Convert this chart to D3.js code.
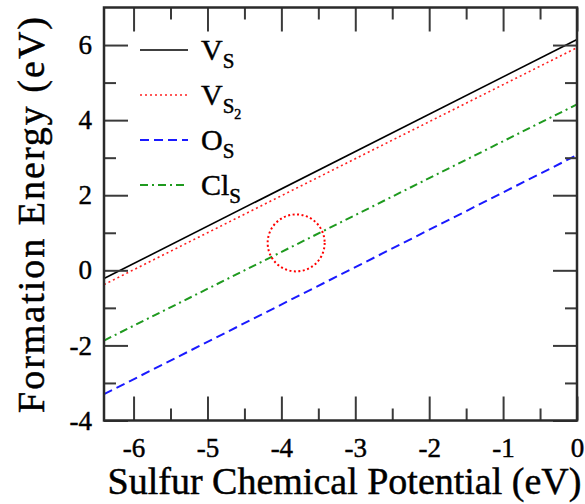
<!DOCTYPE html>
<meta charset='utf-8'>
<style>
body { margin: 0; background: #fff; }
svg { display: block; }
text { font-family: 'Liberation Serif', Tinos, 'Times New Roman', 'DejaVu Serif', serif; fill: #000; stroke: #000; stroke-width: 0.45px; }
.tick text { font-size: 27px; }
.axis .domain { display: none; }
.axis line { stroke: #3a3a3a; stroke-width: 2px; }
</style>
<svg width='585' height='504'></svg>
<script src='https://cdn.jsdelivr.net/npm/d3@7'></script>
<script>

// sulfur chemical potential (eV) at the ends of the plotted range
var potential = [-6.4, 0];

// formation energies (eV) read at those two ends
var vS  = [-0.22, 6.15];
var vS2 = [-0.38, 5.93];
var oS  = [-3.30, 3.07];
var clS = [-1.87, 4.42];

var xMajor = [-6, -5, -4, -3, -2, -1, 0];
var xMinor = [-5.5, -4.5, -3.5, -2.5, -1.5, -0.5];
var yMajor = [-4, -2, 0, 2, 4, 6];
var yMinor = [-3, -1, 1, 3, 5];

// the marked crossing region
var mark = [-3.8, 0.73];

var svg = d3.select('svg'),
    plotLeft = 104, plotRight = 577, plotTop = 7.5, plotBottom = 420.5;

var x = d3.scaleLinear().domain([-6.4, 0]).range([plotLeft, plotRight]);
var y = d3.scaleLinear().domain([-4, 7]).range([plotBottom, plotTop]);

var series = [
  { name: 'V', sub: 'S', sub2: null, values: vS,  color: '#000000', width: 1.6, dash: null },
  { name: 'V', sub: 'S', sub2: '2',  values: vS2, color: '#ff2020', width: 1.6, dash: '2,3' },
  { name: 'O', sub: 'S', sub2: null, values: oS,  color: '#1a1aff', width: 2,   dash: '9,5' },
  { name: 'Cl', sub: 'S', sub2: null, values: clS, color: '#1f9a1f', width: 2,  dash: '8,4,2,4' }
];

var line = d3.line()
    .x(function(d) { return x(d[0]); })
    .y(function(d) { return y(d[1]); });

// the lines
svg.append('g')
  .selectAll('path')
  .data(series)
  .enter().append('path')
    .attr('fill', 'none')
    .attr('stroke', function(d) { return d.color; })
    .attr('stroke-width', function(d) { return d.width; })
    .attr('stroke-dasharray', function(d) { return d.dash; })
    .attr('d', function(d) { return line(potential.map(function(p, i) { return [p, d.values[i]]; })); });

// dotted circle round the crossing
svg.append('circle')
    .attr('cx', x(mark[0]))
    .attr('cy', y(mark[1]))
    .attr('r', 28.5)
    .attr('fill', 'none')
    .attr('stroke', '#ff0000')
    .attr('stroke-width', 2)
    .attr('stroke-dasharray', '2,2.5');

// axes, ticks point inward
function addAxis(axis, tx, ty) {
  svg.append('g').attr('class', 'axis')
    .attr('transform', 'translate(' + tx + ',' + ty + ')')
    .call(axis);
}

addAxis(d3.axisBottom(x).tickValues(xMajor).tickSizeInner(-24).tickSizeOuter(0).tickPadding(17).tickFormat(d3.format('d')), 0, plotBottom);
addAxis(d3.axisBottom(x).tickValues(xMinor).tickSizeInner(-12).tickSizeOuter(0).tickFormat(''), 0, plotBottom);
addAxis(d3.axisTop(x).tickValues(xMajor).tickSizeInner(-24).tickSizeOuter(0).tickFormat(''), 0, plotTop);
addAxis(d3.axisTop(x).tickValues(xMinor).tickSizeInner(-12).tickSizeOuter(0).tickFormat(''), 0, plotTop);
addAxis(d3.axisLeft(y).tickValues(yMajor).tickSizeInner(-24).tickSizeOuter(0).tickPadding(12).tickFormat(d3.format('d')), plotLeft, 0);
addAxis(d3.axisLeft(y).tickValues(yMinor).tickSizeInner(-12).tickSizeOuter(0).tickFormat(''), plotLeft, 0);
addAxis(d3.axisRight(y).tickValues(yMajor).tickSizeInner(-24).tickSizeOuter(0).tickFormat(''), plotRight, 0);
addAxis(d3.axisRight(y).tickValues(yMinor).tickSizeInner(-12).tickSizeOuter(0).tickFormat(''), plotRight, 0);

svg.selectAll('.tick text').text(function() { return this.textContent.replace('−', '-'); });

// frame
svg.append('rect')
    .attr('x', plotLeft).attr('y', plotTop)
    .attr('width', plotRight - plotLeft).attr('height', plotBottom - plotTop)
    .attr('fill', 'none')
    .attr('stroke', '#2a2a2a')
    .attr('stroke-width', 2.5);

// axis titles
svg.append('text')
    .attr('x', (plotLeft + plotRight) / 2 + 4)
    .attr('y', 494)
    .attr('text-anchor', 'middle')
    .style('font-size', '38px')
    .text('Sulfur Chemical Potential (eV)');

svg.append('text')
    .attr('transform', 'translate(44,214) rotate(-90)')
    .attr('text-anchor', 'middle')
    .style('font-size', '38px')
    .style('letter-spacing', '2px')
    .text('Formation Energy (eV)');

// legend
var legend = svg.append('g')
  .selectAll('g')
  .data(series)
  .enter().append('g')
    .attr('transform', function(d, i) { return 'translate(140,' + (50 + i * 45) + ')'; });

legend.append('line')
    .attr('x1', 0).attr('x2', 48)
    .attr('stroke', function(d) { return d.color; })
    .attr('stroke-width', function(d) { return d.width; })
    .attr('stroke-dasharray', function(d) { return d.dash; });

var label = legend.append('text')
    .attr('x', 61)
    .attr('y', 10)
    .style('font-size', '30px');

label.append('tspan').text(function(d) { return d.name; });
label.append('tspan')
    .attr('dy', 8)
    .style('font-size', '21px')
    .text(function(d) { return d.sub; });
label.filter(function(d) { return d.sub2; }).append('tspan')
    .attr('dy', 6)
    .style('font-size', '14px')
    .text(function(d) { return d.sub2; });

</script>
